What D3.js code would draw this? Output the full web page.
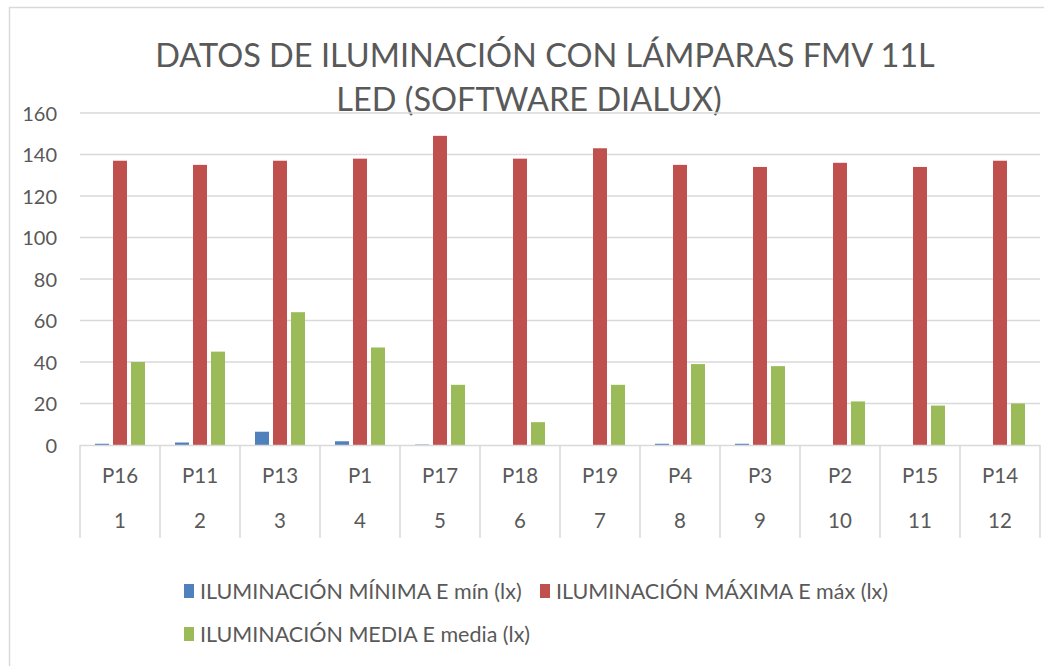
<!DOCTYPE html>
<html>
<head>
<meta charset="utf-8">
<script src="https://cdn.jsdelivr.net/npm/d3@7"></script>
<style>
  html, body { margin: 0; padding: 0; background: #fff; }
  svg { display: block; }
  text { font-family: Lato, "Open Sans", sans-serif; fill: #595959; }
</style>
</head>
<body>
<svg id="chart" width="1044" height="666"></svg>
<script>
// Illumination points (outer category level = point id, inner level = index)
const points = ["P16", "P11", "P13", "P1", "P17", "P18", "P19", "P4", "P3", "P2", "P15", "P14"];
const indices = ["1", "2", "3", "4", "5", "6", "7", "8", "9", "10", "11", "12"];

// Series values in lux
const eMin   = [0.6, 1.2, 6.4, 1.8, 0.2, 0, 0, 0.6, 0.6, 0, 0, 0];
const eMax   = [137, 135, 137, 138, 149, 138, 143, 135, 134, 136, 134, 137];
const eMedia = [40, 45, 64, 47, 29, 11, 29, 39, 38, 21, 19, 20];

const seriesNames = [
  "ILUMINACIÓN MÍNIMA E mín (lx)",
  "ILUMINACIÓN MÁXIMA E máx (lx)",
  "ILUMINACIÓN MEDIA E media (lx)"
];
const seriesColors = ["#4f81bd", "#c0504d", "#9bbb59"];
const yTicks = [0, 20, 40, 60, 80, 100, 120, 140, 160];

const titleLines = ["DATOS DE ILUMINACIÓN CON LÁMPARAS FMV 11L", "LED (SOFTWARE DIALUX)"];

const series = [eMin, eMax, eMedia];
const svg = d3.select("#chart");
const grid = "#d9d9d9";

// chart area frame
svg.append("rect")
  .attr("x", 9.5).attr("y", 7.5)
  .attr("width", 1060).attr("height", 680)
  .attr("fill", "#fff").attr("stroke", grid).attr("stroke-width", 1.5);

// title
svg.append("text").attr("x", 545).attr("y", 67)
  .attr("text-anchor", "middle").style("font-size", "32.5px").text(titleLines[0]);
svg.append("text").attr("x", 529).attr("y", 111)
  .attr("text-anchor", "middle").style("font-size", "32.5px").text(titleLines[1]);

// scales
const x0 = d3.scaleBand().domain(d3.range(points.length)).range([80, 1040]).padding(0);
const x1 = d3.scaleBand().domain(d3.range(series.length)).range([-25, 25])
  .paddingInner(4 / 18).paddingOuter(0);
const y = d3.scaleLinear().domain([0, 160]).range([445, 113]);

// horizontal gridlines
svg.append("g").selectAll("line").data(yTicks.slice(1)).join("line")
  .attr("x1", 80).attr("x2", 1040)
  .attr("y1", d => y(d)).attr("y2", d => y(d))
  .attr("stroke", grid).attr("stroke-width", 1.5);

// y axis labels
const yAxis = d3.axisLeft(y).tickValues(yTicks).tickSize(0).tickPadding(0);
const gy = svg.append("g").attr("transform", "translate(57,0)").call(yAxis);
gy.select(".domain").remove();
gy.selectAll("text").attr("fill", null).style("font-size", "20px").attr("dy", "0.35em");

// bars
series.forEach((vals, s) => {
  svg.append("g").selectAll("rect").data(vals).join("rect")
    .attr("x", (d, i) => x0(i) + x0.bandwidth() / 2 + x1(s))
    .attr("width", x1.bandwidth())
    .attr("y", d => y(d))
    .attr("height", d => y(0) - y(d))
    .attr("fill", seriesColors[s]);
});

// category axis: baseline, dividers, two label levels
svg.append("line").attr("x1", 80).attr("x2", 1040)
  .attr("y1", y(0) + 0.5).attr("y2", y(0) + 0.5)
  .attr("stroke", grid).attr("stroke-width", 1.5);

const edges = d3.range(points.length + 1).map(i => i < points.length ? x0(i) : x0(i - 1) + x0.bandwidth());
svg.append("g").selectAll("line").data(edges).join("line")
  .attr("x1", d => d).attr("x2", d => d)
  .attr("y1", y(0)).attr("y2", 538)
  .attr("stroke", grid).attr("stroke-width", 1.5);

svg.append("g").selectAll("text").data(points).join("text")
  .attr("x", (d, i) => x0(i) + x0.bandwidth() / 2)
  .attr("y", 483)
  .attr("text-anchor", "middle").style("font-size", "20.5px").text(d => d);

svg.append("g").selectAll("text").data(indices).join("text")
  .attr("x", (d, i) => x0(i) + x0.bandwidth() / 2)
  .attr("y", 528)
  .attr("text-anchor", "middle").style("font-size", "20.5px").text(d => d);

// legend
const legendPos = [[184, 591], [540, 591], [184, 634]];
const lg = svg.append("g").selectAll("g").data(seriesNames).join("g")
  .attr("transform", (d, i) => `translate(${legendPos[i][0]},${legendPos[i][1]})`);
lg.append("rect").attr("x", 0).attr("y", -7).attr("width", 10).attr("height", 14)
  .attr("fill", (d, i) => seriesColors[i]);
lg.append("text").attr("x", 16).attr("y", 8).style("font-size", "21.5px").text(d => d);
</script>
</body>
</html>
